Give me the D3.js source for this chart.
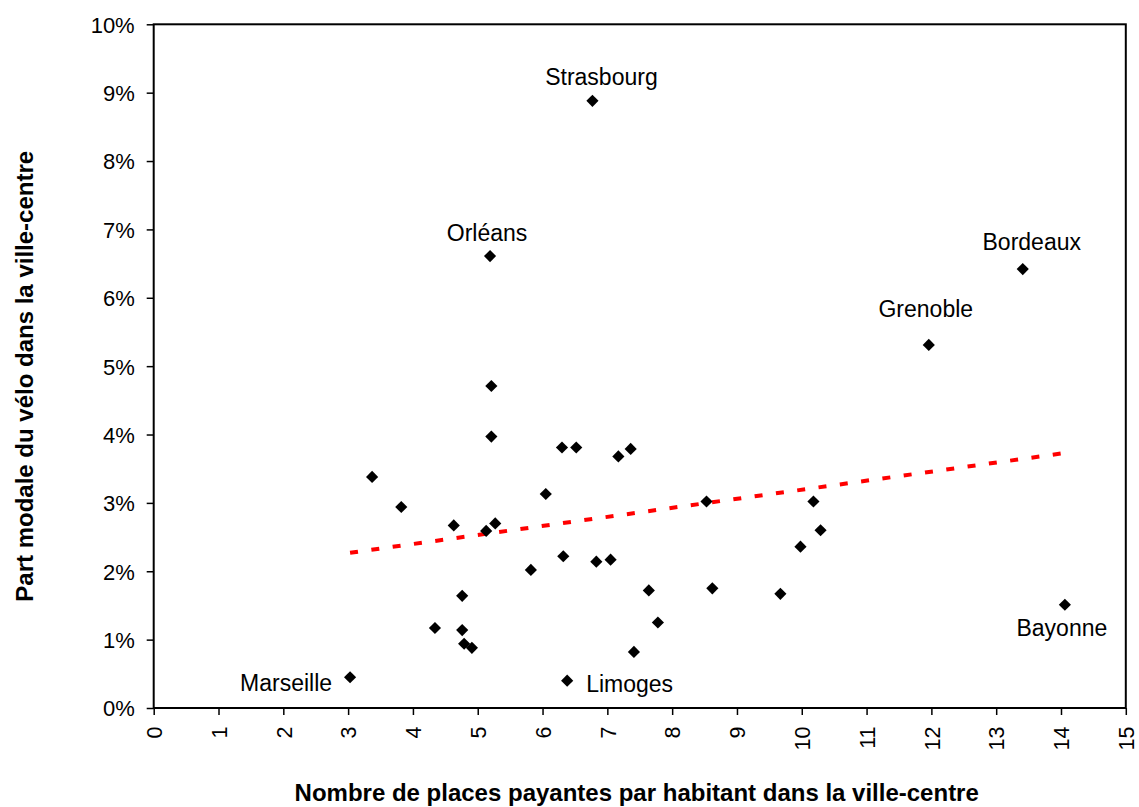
<!doctype html>
<html>
<head>
  <meta charset="utf-8">
  <script src="https://d3js.org/d3.v7.min.js" charset="utf-8"></script>
  <style>
    body { margin: 0; background: #fff; }
    text { font-family: "Liberation Sans", Arial, sans-serif; fill: #000; }
  </style>
</head>
<body>
  <div id="viz"></div>
  <script>
    // data: places payantes / habitant (x), part modale vélo en % (y)
    var cities = ["Marseille", "", "", "", "", "", "", "", "", "", "Orléans", "", "", "", "", "",
                  "", "", "Limoges", "", "Strasbourg", "", "", "", "", "", "", "", "", "", "",
                  "", "", "", "Grenoble", "Bordeaux", "Bayonne"];
    var places = [3.03, 3.37, 3.82, 4.34, 4.63, 4.76, 4.76, 4.79, 4.91, 5.13, 5.19, 5.21, 5.21,
                  5.27, 5.82, 6.05, 6.30, 6.32, 6.38, 6.52, 6.77, 6.83, 7.05, 7.17, 7.36, 7.41,
                  7.64, 7.78, 8.53, 8.62, 9.67, 9.98, 10.18, 10.29, 11.96, 13.41, 14.06];
    var partVelo = [0.45, 3.38, 2.94, 1.17, 2.67, 1.64, 1.14, 0.94, 0.88, 2.59, 6.61, 4.71, 3.97,
                    2.70, 2.02, 3.13, 3.81, 2.22, 0.40, 3.81, 8.88, 2.14, 2.17, 3.68, 3.79, 0.82,
                    1.72, 1.25, 3.02, 1.75, 1.67, 2.36, 3.02, 2.60, 5.31, 6.42, 1.51];
    // linear trend line end points
    var trendX = [3.03, 14.06];
    var trendY = [2.27, 3.73];
    var xTicks = d3.range(0, 16);
    var yTicks = d3.range(0, 11);

    var xTitle = "Nombre de places payantes par habitant dans la ville-centre";
    var yTitle = "Part modale du vélo dans la ville-centre";

    // where each city label sits relative to its marker
    var labelPos = {
      "Marseille":  {dx: -18, dy: 14, anchor: "end"},
      "Limoges":    {dx: 19, dy: 11, anchor: "start"},
      "Orléans":    {dx: -3, dy: -15, anchor: "middle"},
      "Strasbourg": {dx: 9, dy: -16, anchor: "middle"},
      "Grenoble":   {dx: -3, dy: -28, anchor: "middle"},
      "Bordeaux":   {dx: 9, dy: -19, anchor: "middle"},
      "Bayonne":    {dx: -3, dy: 31, anchor: "middle"}
    };

    var margin = {top: 24.3, right: 13.2, bottom: 99, left: 153.7},
        width = 1139 - margin.left - margin.right,
        height = 807 - margin.top - margin.bottom;

    var svg = d3.select("#viz")
               .append("svg")
               .attr("width", 1139)
               .attr("height", 807)
               .append("g")
               .attr("transform", "translate(" + margin.left + "," + margin.top + ")");

    var x = d3.scaleLinear().domain([0, 15]).range([0, width]);
    var y = d3.scaleLinear().domain([0, 10]).range([height, 0]);

    var points = places.map(function(p, i) {
      return {name: cities[i], x: p, y: partVelo[i]};
    });

    // x axis
    var gx = svg.append("g")
        .attr("transform", "translate(0," + height + ")")
        .call(d3.axisBottom(x).tickValues(xTicks).tickSize(7).tickFormat(d3.format("d")));
    gx.select(".domain").remove();
    gx.selectAll(".tick line").attr("stroke", "#000").attr("stroke-width", 1.5);
    gx.selectAll(".tick text")
        .attr("transform", "rotate(-90)")
        .attr("text-anchor", "end")
        .attr("x", -18.5)
        .attr("y", 0)
        .attr("dy", "0.36em")
        .style("font-size", "21.5px");

    // y axis
    var gy = svg.append("g")
        .call(d3.axisLeft(y).tickValues(yTicks).tickSize(7).tickPadding(12)
               .tickFormat(function(d) { return d + "%"; }));
    gy.select(".domain").remove();
    gy.selectAll(".tick line").attr("stroke", "#000").attr("stroke-width", 1.5);
    gy.selectAll(".tick text")
        .attr("dy", "0.36em")
        .style("font-size", "22px");

    // plot frame
    svg.append("rect")
        .attr("x", 0).attr("y", 0)
        .attr("width", width).attr("height", height)
        .attr("fill", "none")
        .attr("stroke", "#000")
        .attr("stroke-width", 2);

    // trend line
    var line = d3.line()
        .x(function(d) { return x(d[0]); })
        .y(function(d) { return y(d[1]); });
    svg.append("path")
        .datum(d3.zip(trendX, trendY))
        .attr("d", line)
        .attr("fill", "none")
        .attr("stroke", "#ff0000")
        .attr("stroke-width", 4)
        .attr("stroke-dasharray", "8,13.5");

    // markers
    var diamond = d3.symbol().type(d3.symbolSquare).size(74);
    svg.selectAll(".pt")
        .data(points)
        .enter()
        .append("path")
        .attr("class", "pt")
        .attr("d", diamond)
        .attr("transform", function(d) {
          return "translate(" + x(d.x) + "," + y(d.y) + ") rotate(45)";
        })
        .style("fill", "#000");

    // city labels
    svg.selectAll(".label")
        .data(points.filter(function(d) { return d.name !== ""; }))
        .enter()
        .append("text")
        .attr("class", "label")
        .attr("x", function(d) { return x(d.x) + labelPos[d.name].dx; })
        .attr("y", function(d) { return y(d.y) + labelPos[d.name].dy; })
        .attr("text-anchor", function(d) { return labelPos[d.name].anchor; })
        .style("font-size", "23px")
        .text(function(d) { return d.name; });

    // axis titles
    svg.append("text")
        .attr("text-anchor", "middle")
        .attr("x", 483)
        .attr("y", 776.5)
        .style("font-size", "24px")
        .style("font-weight", "bold")
        .text(xTitle);

    svg.append("text")
        .attr("text-anchor", "middle")
        .attr("transform", "rotate(-90)")
        .attr("x", -352)
        .attr("y", -121)
        .style("font-size", "24px")
        .style("font-weight", "bold")
        .text(yTitle);
  </script>
</body>
</html>
